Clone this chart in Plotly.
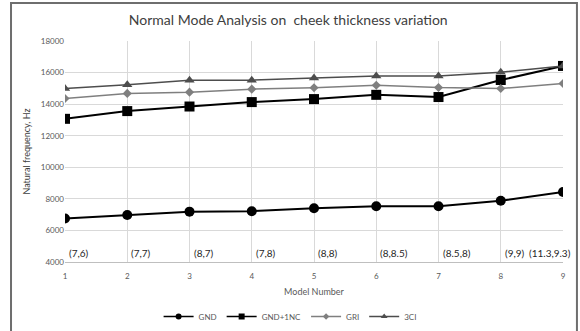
import plotly.graph_objects as go

models = [1, 2, 3, 4, 5, 6, 7, 8, 9]
gnd = [6760, 6980, 7190, 7220, 7400, 7530, 7530, 7880, 8430]
gnd_1nc = [13070, 13560, 13850, 14130, 14320, 14590, 14450, 15530, 16420]
gri = [14360, 14680, 14760, 14950, 15040, 15200, 15050, 14990, 15310]
ci3 = [14990, 15230, 15520, 15520, 15660, 15790, 15780, 16020, 16420]
pair_labels = ["(7,6)", "(7,7)", "(8,7)", "(7,8)", "(8,8)", "(8,8.5)", "(8.5,8)", "(9,9)", "(11.3,9.3)"]

FONT = "Lato, Open Sans, sans-serif"

series = [
    ("GND", gnd, "#000000", 2, "circle", 10, 6),
    ("GND+1NC", gnd_1nc, "#000000", 2, "square", 10, 6),
    ("GRI", gri, "#7f7f7f", 1.5, "diamond", 7, 5),
    ("3CI", ci3, "#4d4d4d", 1.5, "triangle-up", 9, 6),
]

fig = go.Figure()
for name, vals, col, lw, sym, ms, _ in series:
    fig.add_trace(go.Scatter(x=models, y=vals, name=name, mode="lines+markers",
                             line=dict(color=col, width=lw), showlegend=False,
                             marker=dict(symbol=sym, size=ms, color=col)))
# legend entries with smaller symbols (as in the reference legend)
for name, vals, col, lw, sym, ms, lms in series:
    fig.add_trace(go.Scatter(x=[None], y=[None], name=name, mode="lines+markers",
                             line=dict(color=col, width=1.5),
                             marker=dict(symbol=sym, size=lms, color=col)))

for i, (m, lab) in enumerate(zip(models, pair_labels)):
    last = i == len(models) - 1
    fig.add_annotation(x=m, y=4000, xref="x", yref="y", text=lab, showarrow=False,
                       xanchor="right" if last else "left", yanchor="bottom",
                       xshift=10 if last else 2, yshift=1,
                       font=dict(family=FONT, size=10, color="#262626"))

fig.add_shape(type="rect", xref="paper", yref="paper",
              x0=-0.1084, x1=1.028, y0=-0.5, y1=1.172,
              line=dict(color="#6e6e6e", width=2), fillcolor="rgba(0,0,0,0)", layer="below")

fig.update_layout(
    width=580, height=331,
    margin=dict(l=65, r=17, t=41, b=69),
    paper_bgcolor="white", plot_bgcolor="white",
    font=dict(family=FONT, size=8, color="#595959"),
    title=dict(text="Normal Mode Analysis on  cheek thickness variation",
               x=0.497, xanchor="center", y=0.94, yanchor="middle",
               font=dict(family=FONT, size=14, color="#404040")),
    xaxis=dict(range=[1, 9], tickmode="array", tickvals=models, ticktext=[str(m) for m in models],
               showgrid=True, gridcolor="#d9d9d9", gridwidth=1, ticklabelstandoff=6,
               showline=True, linecolor="#bfbfbf", zeroline=False, ticks="", automargin=False,
               title=dict(text="Model Number", font=dict(size=9, color="#595959"), standoff=9)),
    yaxis=dict(range=[4000, 18000], dtick=2000, tickformat="d", showgrid=True,
               gridcolor="#d9d9d9", gridwidth=1, automargin=False,
               showline=False, zeroline=False, ticks="",
               title=dict(text="Natural frequency, Hz", font=dict(size=9, color="#404040"), standoff=8)),
    legend=dict(orientation="h", x=0.452, xanchor="center", xref="paper",
                y=-0.035, yanchor="bottom", yref="container",
                font=dict(size=8, color="#595959"), tracegroupgap=0),
    showlegend=True,
)

fig.write_html("out.html")
